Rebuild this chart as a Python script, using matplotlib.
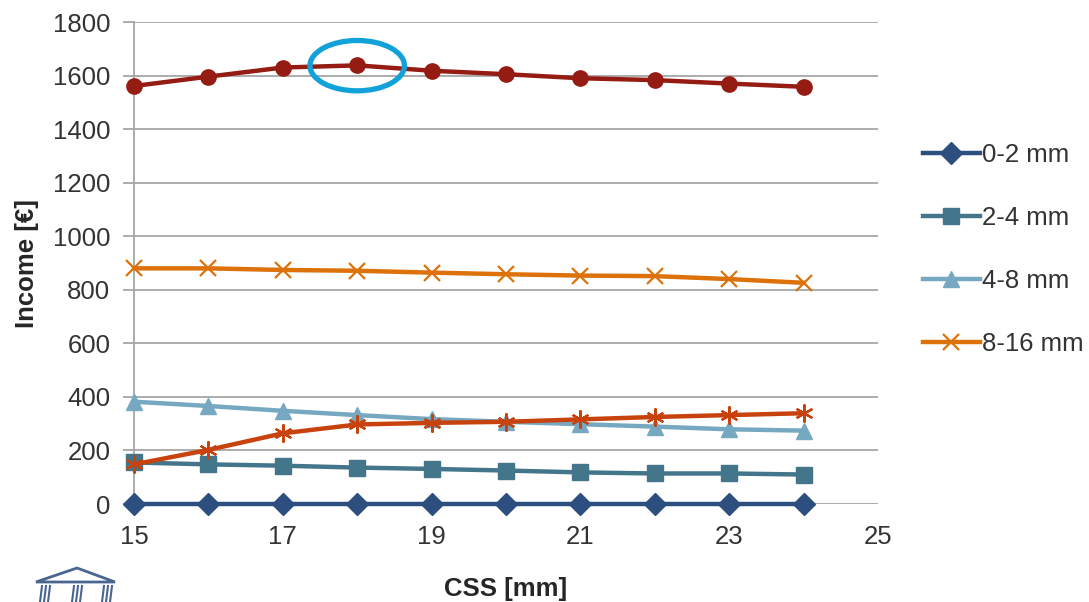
import matplotlib
matplotlib.use("Agg")
import matplotlib.pyplot as plt
from matplotlib.patches import Ellipse, Polygon
from matplotlib.lines import Line2D

plt.rcParams['font.family'] = ['Liberation Sans', 'DejaVu Sans']

css = [15, 16, 17, 18, 19, 20, 21, 22, 23, 24]
total = [1561, 1596, 1630, 1638, 1618, 1605, 1590, 1583, 1570, 1558]
s_0_2 = [0, 0, 0, 0, 0, 0, 0, 0, 0, 0]
s_2_4 = [155, 148, 143, 136, 131, 125, 118, 114, 114, 110]
s_4_8 = [382, 366, 348, 332, 317, 307, 298, 289, 279, 274]
s_8_16 = [880, 880, 874, 871, 864, 858, 853, 851, 840, 826]
s_16_plus = [148, 202, 264, 297, 303, 307, 316, 325, 332, 339]
labels = ['0-2 mm', '2-4 mm', '4-8 mm', '8-16 mm']
x_ticks = [15, 17, 19, 21, 23, 25]
y_ticks = list(range(0, 1801, 200))

fig = plt.figure(figsize=(10.89, 6.02), dpi=100)
ax = fig.add_axes([134/1089, 1-504/602, (878-134)/1089, (504-22)/602])

grid_c = '#A6A6A6'
for y in y_ticks:
    ax.axhline(y, color=grid_c, lw=1.3, zorder=0)

lw = 3.2
kw = dict(lw=lw, clip_on=False)
h1, = ax.plot(css, s_0_2, color='#2C4F80', marker='D', ms=11, label=labels[0], zorder=3, **kw)
h2, = ax.plot(css, s_2_4, color='#44768B', marker='s', ms=11, label=labels[1], zorder=3, **kw)
h3, = ax.plot(css, s_4_8, color='#76A9C1', marker='^', ms=12, label=labels[2], zorder=3, **kw)
h4, = ax.plot(css, s_8_16, color='#DC7209', marker='x', ms=12, mew=1.6, label=labels[3], zorder=3, **kw)
ax.plot(css, s_16_plus, color='#C8420D', marker=(6, 2, 0), ms=13, mew=1.6, zorder=4, **kw)
ax.plot(css, total, color='#951C12', marker='o', ms=11, zorder=3, **kw)

ax.add_patch(Ellipse((18, 1637), 1.27, 188, fill=False, ec='#13A1D9', lw=3.8, zorder=5))

ax.set_xlim(15, 25)
ax.set_ylim(0, 1800)
ax.set_xticks(x_ticks)
ax.set_yticks(y_ticks)
ax.tick_params(axis='x', labelsize=18.5, colors='#333333', length=0, pad=15)
ax.tick_params(axis='y', labelsize=18.5, colors='#333333', length=8, width=1.3, pad=9)
ax.tick_params(axis='y', color=grid_c)
for s in ['top', 'right', 'bottom']:
    ax.spines[s].set_visible(False)
ax.spines['left'].set_color(grid_c)
ax.spines['left'].set_linewidth(1.3)

ax.set_ylabel('Income [€]', fontsize=18.5, fontweight='bold', color='#262626', labelpad=10)
ax.set_xlabel('CSS [mm]', fontsize=18.5, fontweight='bold', color='#262626', labelpad=20)

ax.legend(handles=[h1, h2, h3, h4], loc='upper left', bbox_to_anchor=(923/1089, 1-143/602),
          bbox_transform=fig.transFigure, frameon=False, fontsize=18.5,
          labelspacing=1.52, handlelength=2.2, handletextpad=0.08, borderpad=0,
          borderaxespad=0, labelcolor='#333333')

# small building logo (decoration)
logo_c = '#4A6590'
T = fig.transFigure
fig.patches.append(Polygon([[36/1089, 1-582/602], [77/1089, 1-568/602], [115/1089, 1-582/602]],
                           closed=True, fill=False, ec=logo_c, lw=2, transform=T))
for cx in [40, 44, 48, 72, 76, 80, 102, 106, 110]:
    fig.lines.append(Line2D([cx/1089, (cx + 2)/1089], [0, 1-586/602], color=logo_c, lw=1.5,
                            transform=T))

fig.savefig('out.png', dpi=100)
